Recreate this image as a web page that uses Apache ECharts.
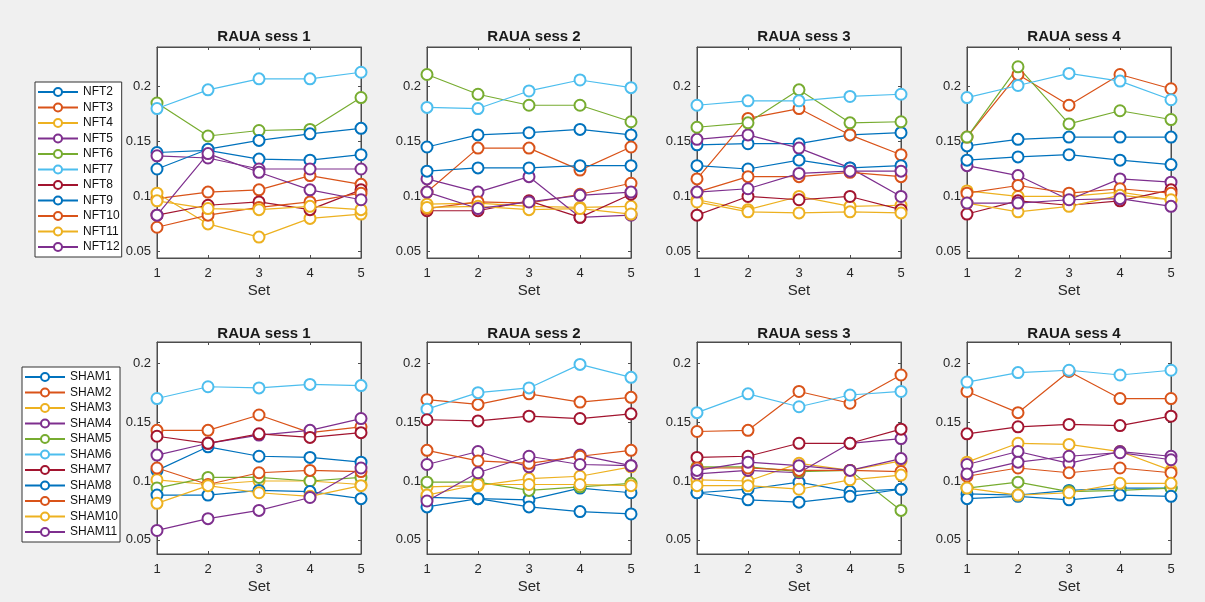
<!DOCTYPE html>
<html>
<head>
<meta charset="utf-8">
<script src="https://cdn.jsdelivr.net/npm/echarts@6/dist/echarts.min.js"></script>
<style>
  html, body { margin: 0; padding: 0; background: #f0f0f0; }
  #chart { width: 1205px; height: 602px; }
</style>
</head>
<body>
<div id="chart"></div>
<script>
// Subjects and per-session RAUA values for sets 1..5
const nftNames = ['NFT2', 'NFT3', 'NFT4', 'NFT5', 'NFT6', 'NFT7', 'NFT8', 'NFT9', 'NFT10', 'NFT11', 'NFT12'];
const shamNames = ['SHAM1', 'SHAM2', 'SHAM3', 'SHAM4', 'SHAM5', 'SHAM6', 'SHAM7', 'SHAM8', 'SHAM9', 'SHAM10', 'SHAM11'];
const sets = [1, 2, 3, 4, 5];
const titles = ['RAUA sess 1', 'RAUA sess 2', 'RAUA sess 3', 'RAUA sess 4'];
const yTicks = [0.05, 0.1, 0.15, 0.2];

// one row per subject, in the order of nftNames
const nftSess1 = [
  [0.140, 0.142, 0.134, 0.133, 0.138],
  [0.098, 0.104, 0.106, 0.119, 0.111],
  [0.103, 0.075, 0.063, 0.080, 0.084],
  [0.137, 0.135, 0.125, 0.125, 0.125],
  [0.185, 0.155, 0.160, 0.161, 0.190],
  [0.180, 0.197, 0.207, 0.207, 0.213],
  [0.083, 0.092, 0.095, 0.088, 0.106],
  [0.125, 0.143, 0.151, 0.157, 0.162],
  [0.072, 0.083, 0.090, 0.095, 0.103],
  [0.096, 0.089, 0.088, 0.091, 0.088],
  [0.083, 0.139, 0.122, 0.106, 0.097]
];
const nftSess2 = [
  [0.145, 0.156, 0.158, 0.161, 0.156],
  [0.104, 0.144, 0.144, 0.124, 0.145],
  [0.093, 0.094, 0.091, 0.090, 0.091],
  [0.116, 0.104, 0.118, 0.081, 0.083],
  [0.211, 0.193, 0.183, 0.183, 0.168],
  [0.181, 0.180, 0.196, 0.206, 0.199],
  [0.087, 0.087, 0.096, 0.081, 0.102],
  [0.123, 0.126, 0.126, 0.128, 0.128],
  [0.089, 0.095, 0.094, 0.102, 0.112],
  [0.090, 0.091, 0.088, 0.089, 0.084],
  [0.104, 0.089, 0.095, 0.101, 0.104]
];
const nftSess3 = [
  [0.147, 0.148, 0.148, 0.156, 0.158],
  [0.116, 0.171, 0.180, 0.156, 0.138],
  [0.097, 0.088, 0.100, 0.091, 0.092],
  [0.152, 0.156, 0.144, 0.126, 0.100],
  [0.163, 0.167, 0.197, 0.167, 0.168],
  [0.183, 0.187, 0.187, 0.191, 0.193],
  [0.083, 0.100, 0.097, 0.100, 0.088],
  [0.128, 0.125, 0.133, 0.126, 0.128],
  [0.104, 0.118, 0.118, 0.122, 0.118],
  [0.095, 0.086, 0.085, 0.086, 0.085],
  [0.104, 0.107, 0.121, 0.123, 0.123]
];
const nftSess4 = [
  [0.146, 0.152, 0.154, 0.154, 0.154],
  [0.154, 0.211, 0.183, 0.211, 0.198],
  [0.105, 0.100, 0.100, 0.104, 0.097],
  [0.128, 0.119, 0.097, 0.116, 0.113],
  [0.154, 0.218, 0.166, 0.178, 0.170],
  [0.190, 0.201, 0.212, 0.205, 0.188],
  [0.084, 0.096, 0.092, 0.096, 0.106],
  [0.133, 0.136, 0.138, 0.133, 0.129],
  [0.103, 0.110, 0.103, 0.107, 0.103],
  [0.094, 0.086, 0.091, 0.101, 0.097],
  [0.094, 0.094, 0.097, 0.098, 0.091]
];

// one row per subject, in the order of shamNames
const shamSess1 = [
  [0.109, 0.129, 0.121, 0.120, 0.116],
  [0.143, 0.143, 0.156, 0.141, 0.146],
  [0.101, 0.097, 0.100, 0.100, 0.097],
  [0.122, 0.132, 0.139, 0.143, 0.153],
  [0.094, 0.103, 0.103, 0.100, 0.103],
  [0.170, 0.180, 0.179, 0.182, 0.181],
  [0.138, 0.132, 0.140, 0.137, 0.141],
  [0.088, 0.088, 0.092, 0.091, 0.085],
  [0.111, 0.097, 0.107, 0.109, 0.108],
  [0.081, 0.096, 0.090, 0.087, 0.096],
  [0.058, 0.068, 0.075, 0.086, 0.111]
];
const shamSess2 = [
  [0.086, 0.085, 0.084, 0.094, 0.090],
  [0.169, 0.165, 0.174, 0.167, 0.171],
  [0.095, 0.096, 0.102, 0.104, 0.112],
  [0.114, 0.125, 0.112, 0.122, 0.113],
  [0.099, 0.099, 0.092, 0.095, 0.098],
  [0.161, 0.175, 0.179, 0.199, 0.188],
  [0.152, 0.151, 0.155, 0.153, 0.157],
  [0.078, 0.085, 0.078, 0.074, 0.072],
  [0.126, 0.117, 0.115, 0.121, 0.126],
  [0.088, 0.097, 0.097, 0.097, 0.096],
  [0.083, 0.107, 0.121, 0.114, 0.113]
];
const shamSess3 = [
  [0.090, 0.093, 0.099, 0.091, 0.093],
  [0.142, 0.143, 0.176, 0.166, 0.190],
  [0.101, 0.100, 0.115, 0.109, 0.117],
  [0.106, 0.109, 0.107, 0.132, 0.136],
  [0.112, 0.112, 0.108, 0.109, 0.075],
  [0.158, 0.174, 0.163, 0.173, 0.176],
  [0.120, 0.121, 0.132, 0.132, 0.144],
  [0.090, 0.084, 0.082, 0.087, 0.093],
  [0.111, 0.111, 0.109, 0.109, 0.108],
  [0.096, 0.096, 0.093, 0.101, 0.105],
  [0.109, 0.116, 0.113, 0.109, 0.119]
];
const shamSess4 = [
  [0.089, 0.088, 0.092, 0.094, 0.094],
  [0.176, 0.158, 0.193, 0.170, 0.170],
  [0.116, 0.132, 0.131, 0.125, 0.109],
  [0.114, 0.125, 0.115, 0.125, 0.121],
  [0.094, 0.099, 0.091, 0.092, 0.094],
  [0.184, 0.192, 0.194, 0.190, 0.194],
  [0.140, 0.146, 0.148, 0.147, 0.155],
  [0.085, 0.087, 0.084, 0.088, 0.087],
  [0.104, 0.111, 0.107, 0.111, 0.107],
  [0.094, 0.088, 0.090, 0.098, 0.098],
  [0.106, 0.116, 0.121, 0.124, 0.118]
];

// MATLAB-style colour order (7 colours, cycling)
const colorOrder = ['#0072BD', '#D95319', '#EDB120', '#7E2F8E', '#77AC30', '#4DBEEE', '#A2142F'];

const panels = [
  { names: nftNames, data: nftSess1, row: 0, col: 0 },
  { names: nftNames, data: nftSess2, row: 0, col: 1 },
  { names: nftNames, data: nftSess3, row: 0, col: 2 },
  { names: nftNames, data: nftSess4, row: 0, col: 3 },
  { names: shamNames, data: shamSess1, row: 1, col: 0 },
  { names: shamNames, data: shamSess2, row: 1, col: 1 },
  { names: shamNames, data: shamSess3, row: 1, col: 2 },
  { names: shamNames, data: shamSess4, row: 1, col: 3 }
];

const rowLayout = [
  { top: 47, height: 211, yMin: 0.044, yMax: 0.236, titleTop: 24 },
  { top: 342, height: 212, yMin: 0.038, yMax: 0.218, titleTop: 321 }
];
const colLeft = [157, 427, 697, 967];
const plotWidth = 204;

const FONT = '"Liberation Sans", Arial, Helvetica, sans-serif';
const AXIS_COLOR = '#4d4d4d';
const TEXT_COLOR = '#262626';

const grids = [], xAxes = [], yAxes = [], series = [], titleList = [];

panels.forEach((p, g) => {
  const r = rowLayout[p.row];
  grids.push({
    left: colLeft[p.col], top: r.top, width: plotWidth, height: r.height,
    show: true, backgroundColor: '#ffffff', borderColor: AXIS_COLOR, borderWidth: 1
  });
  titleList.push({
    text: titles[p.col],
    left: colLeft[p.col] + plotWidth / 2,
    top: r.titleTop,
    textAlign: 'center',
    textStyle: { fontFamily: FONT, fontSize: 15, fontWeight: 'bold', color: '#1a1a1a' }
  });
});

// bottom / left axes with labels
panels.forEach((p, g) => {
  const r = rowLayout[p.row];
  xAxes.push({
    type: 'value', gridIndex: g, min: 1, max: 5, interval: 1, position: 'bottom',
    name: 'Set', nameLocation: 'middle', nameGap: 25,
    nameTextStyle: { fontFamily: FONT, fontSize: 15, color: TEXT_COLOR },
    axisLine: { show: true, lineStyle: { color: AXIS_COLOR } },
    axisTick: { show: true, inside: true, length: 3, lineStyle: { color: AXIS_COLOR } },
    axisLabel: { fontFamily: FONT, fontSize: 13, color: TEXT_COLOR, margin: 9 },
    splitLine: { show: false }
  });
  yAxes.push({
    type: 'value', gridIndex: g, min: r.yMin, max: r.yMax, position: 'left',
    axisLine: { show: true, lineStyle: { color: AXIS_COLOR } },
    axisTick: { show: true, inside: true, length: 3, customValues: yTicks, lineStyle: { color: AXIS_COLOR } },
    axisLabel: { fontFamily: FONT, fontSize: 13, color: TEXT_COLOR, margin: 6, customValues: yTicks },
    splitLine: { show: false }
  });
});

// top / right axes: tick marks only, closing the box
panels.forEach((p, g) => {
  const r = rowLayout[p.row];
  xAxes.push({
    type: 'value', gridIndex: g, min: 1, max: 5, interval: 1, position: 'top',
    axisLine: { show: true, lineStyle: { color: AXIS_COLOR } },
    axisTick: { show: true, inside: true, length: 3, lineStyle: { color: AXIS_COLOR } },
    axisLabel: { show: false }, splitLine: { show: false }
  });
  yAxes.push({
    type: 'value', gridIndex: g, min: r.yMin, max: r.yMax, position: 'right',
    axisLine: { show: true, lineStyle: { color: AXIS_COLOR } },
    axisTick: { show: true, inside: true, length: 3, customValues: yTicks, lineStyle: { color: AXIS_COLOR } },
    axisLabel: { show: false, customValues: yTicks }, splitLine: { show: false }
  });
});

panels.forEach((p, g) => {
  p.data.forEach((vals, i) => {
    const c = colorOrder[i % colorOrder.length];
    series.push({
      type: 'line',
      name: p.names[i],
      xAxisIndex: g,
      yAxisIndex: g,
      data: sets.map((s, k) => [s, vals[k]]),
      symbol: 'emptyCircle',
      symbolSize: 11,
      color: c,
      lineStyle: { color: c, width: 1.2 },
      itemStyle: { color: c, borderColor: c, borderWidth: 1.1 },
      emphasis: { disabled: true },
      silent: true
    });
  });
});

const legendCommon = {
  orient: 'vertical',
  backgroundColor: '#ffffff',
  borderColor: '#333333',
  borderWidth: 1,
  borderRadius: 0,
  itemWidth: 40,
  itemHeight: 10,
  itemGap: 3.5,
  padding: [4, 2, 4, 2],
  textStyle: { fontFamily: FONT, fontSize: 12, lineHeight: 12, color: '#111111' },
  selectedMode: false
};

const option = {
  backgroundColor: '#f0f0f0',
  animation: false,
  title: titleList,
  legend: [
    Object.assign({}, legendCommon, { left: 35, top: 82, data: nftNames }),
    Object.assign({}, legendCommon, { left: 22, top: 367, data: shamNames })
  ],
  grid: grids,
  xAxis: xAxes,
  yAxis: yAxes,
  series: series
};

const chart = echarts.init(document.getElementById('chart'), null, { renderer: 'canvas' });
chart.setOption(option);
</script>
</body>
</html>
